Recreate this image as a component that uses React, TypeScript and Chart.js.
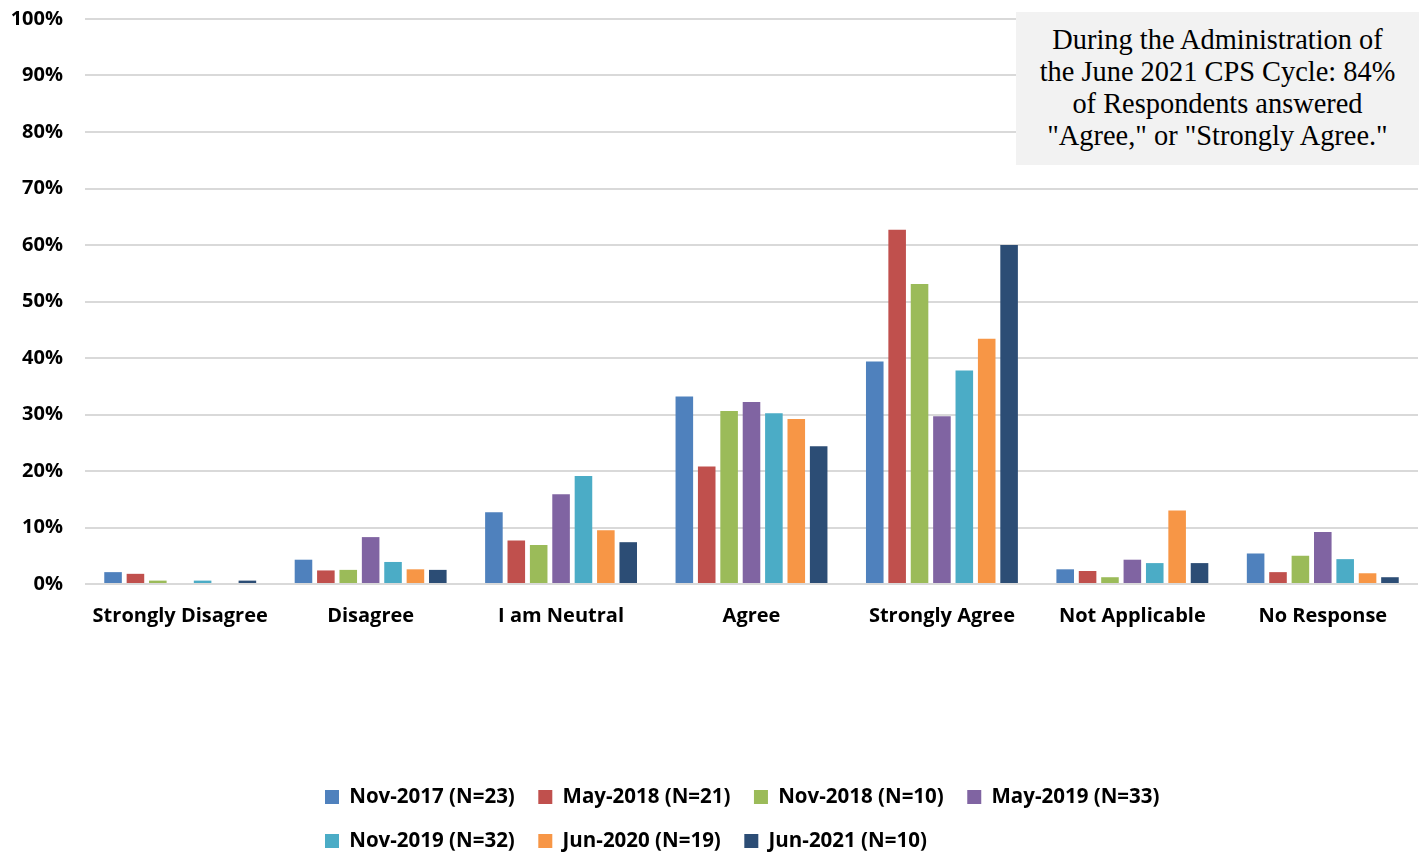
import React, { useEffect, useRef } from "react";
import { Chart, registerables } from "chart.js";

Chart.register(...registerables);

const categories = ["Strongly Disagree", "Disagree", "I am Neutral", "Agree", "Strongly Agree", "Not Applicable", "No Response"];
const seriesLabels = ["Nov-2017 (N=23)", "May-2018 (N=21)", "Nov-2018 (N=10)", "May-2019 (N=33)", "Nov-2019 (N=32)", "Jun-2020 (N=19)", "Jun-2021 (N=10)"];
const seriesColors = ["#4f81bd", "#c0504d", "#9bbb59", "#8064a2", "#4bacc6", "#f79646", "#2c4d75"];

const nov2017 = [2.1, 4.3, 12.7, 33.2, 39.4, 2.6, 5.4];
const may2018 = [1.8, 2.4, 7.7, 20.8, 62.7, 2.3, 2.1];
const nov2018 = [0.6, 2.5, 6.9, 30.6, 53.1, 1.2, 5.0];
const may2019 = [0, 8.3, 15.9, 32.2, 29.7, 4.3, 9.2];
const nov2019 = [0.6, 3.9, 19.1, 30.2, 37.8, 3.7, 4.4];
const jun2020 = [0, 2.6, 9.5, 29.2, 43.4, 13.0, 1.9];
const jun2021 = [0.6, 2.5, 7.4, 24.4, 60.0, 3.7, 1.2];
const seriesValues = [nov2017, may2018, nov2018, may2019, nov2019, jun2020, jun2021];

const yTicks = [0, 10, 20, 30, 40, 50, 60, 70, 80, 90, 100];
const noteLines = ["During the Administration of", "the June 2021 CPS Cycle: 84%", "of Respondents answered", "\"Agree,\" or \"Strongly Agree.\""];

const FONT = "'Open Sans', Lato, sans-serif";

const legendPatch = {
  id: "legendPatch",
  beforeLayout(chart: any) {
    const lg = chart.legend;
    if (lg && !lg.__patched) {
      const orig = lg.update.bind(lg);
      lg.update = (mw: number, mh: number, m: any) => {
        orig(Math.min(mw, 1000), mh, m);
        lg.height = 90.75;
      };
      lg.__patched = true;
    }
  },
  afterLayout(chart: any) {
    const lg = chart.legend;
    if (lg) {
      lg.left = 301.5;
      lg.right = 1300;
      lg.width = 998.5;
    }
  },
};

export default function App() {
  const ref = useRef<HTMLCanvasElement | null>(null);
  useEffect(() => {
    if (!ref.current) return;
    const chart = new Chart(ref.current, {
      type: "bar",
      data: {
        labels: categories,
        datasets: seriesLabels.map((label, i) => ({
          label,
          data: seriesValues[i],
          backgroundColor: seriesColors[i],
          borderWidth: 0,
          categoryPercentage: 0.823,
          barPercentage: 0.785,
        })),
      },
      options: {
        responsive: false,
        animation: false,
        layout: { padding: { top: 19, right: 9, left: 0, bottom: 0 } },
        plugins: {
          tooltip: { enabled: false },
          legend: {
            position: "bottom",
            align: "start",
            labels: {
              boxWidth: 14,
              boxHeight: 14,
              padding: 23.5,
              color: "#000",
              font: { family: FONT, size: 20.5, weight: "bold" },
            },
          },
        },
        scales: {
          x: {
            grid: { display: false, drawTicks: false },
            border: { display: false },
            ticks: { color: "#000", padding: 20, font: { family: FONT, size: 20, weight: "bold" }, maxRotation: 0 },
            afterFit: (s: any) => { s.height = 179.25; },
          },
          y: {
            min: 0,
            max: 100,
            afterBuildTicks: (s: any) => { s.ticks = yTicks.map((v) => ({ value: v })); },
            grid: { color: "#d9d9d9", lineWidth: 2, drawTicks: true, tickLength: 22, tickColor: "rgba(0,0,0,0)" },
            border: { display: false },
            ticks: {
              color: "#000",
              padding: 0,
              font: { family: FONT, size: 20, weight: "bold" },
              callback: (v: any) => v + "%",
            },
            afterFit: (s: any) => { s.width = 85; },
          },
        },
      },
      plugins: [legendPatch],
    });
    return () => chart.destroy();
  }, []);

  return (
    <div style={{ position: "fixed", left: 0, top: 0, width: 1427, height: 854, background: "#fff" }}>
      <canvas ref={ref} width={1427} height={854} style={{ width: 1427, height: 854, display: "block" }} />
      <div
        style={{
          position: "absolute",
          left: 1016,
          top: 12,
          width: 403,
          height: 153,
          background: "#f2f2f2",
          fontFamily: "'Liberation Serif', 'Times New Roman', serif",
          fontSize: 28.4,
          lineHeight: "32px",
          textAlign: "center",
          color: "#000",
          paddingTop: 12,
          boxSizing: "border-box",
        }}
      >
        {noteLines.map((l, i) => (
          <div key={i} style={{ whiteSpace: "nowrap" }}>{l}</div>
        ))}
      </div>
    </div>
  );
}
